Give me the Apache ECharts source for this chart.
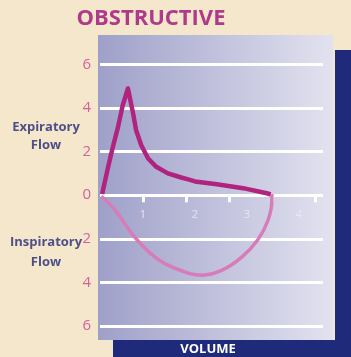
<!DOCTYPE html>
<html>
<head>
<meta charset="utf-8">
<script src="https://cdn.jsdelivr.net/npm/echarts@6/dist/echarts.min.js"></script>
<style>
  html, body { margin: 0; padding: 0; background: #f5e7cb; }
  #chart { width: 351px; height: 357px; }
</style>
</head>
<body>
<div id="chart"></div>
<script>
// volume (L) vs flow (L/s); inspiratory flow drawn below zero
const expiratory = [
  [0.05, 0.05], [0.19, 1.3], [0.3, 2.22], [0.42, 3.13], [0.53, 4.13], [0.65, 4.89],
  [0.77, 3.75], [0.84, 2.98], [0.96, 2.29], [1.12, 1.68], [1.31, 1.3], [1.58, 1.0],
  [1.89, 0.81], [2.05, 0.72], [2.21, 0.63], [2.72, 0.5], [3.33, 0.32],
  [3.88, 0.09], [3.97, 0.03]
];
const inspiratory = [
  [0.03, -0.05], [0.35, -0.69], [0.81, -1.93], [1.28, -2.84], [1.74, -3.35],
  [2.37, -3.67], [2.84, -3.44], [3.3, -2.84], [3.67, -2.06], [3.91, -1.15],
  [4.0, -0.23], [4.0, 0.05]
];
const flowTicks = [-6, -4, -2, 0, 2, 4, 6];
const tickMarks = [1, 2, 3, 4, 5];
const volumeLabels = [1, 2, 3, 4];

const magenta = "#b0237f";
const pink = "#d77cb9";
const navyText = "#4e4f88";

const chart = echarts.init(document.getElementById("chart"), null, { renderer: "canvas" });

chart.setOption({
  animation: false,
  backgroundColor: "#f5e7cb",
  grid: { left: 100, right: 28, top: 64.3, bottom: 31 },
  xAxis: [
    {
      type: "value",
      min: 0,
      max: 5.19,
      axisLine: { show: false, onZero: true },
      splitLine: { show: false },
      axisLabel: { show: false },
      axisTick: {
        show: true,
        customValues: tickMarks,
        length: 7,
        lineStyle: { color: "#ffffff", width: 3 },
      },
    },
    {
      type: "value",
      position: "bottom",
      min: 0.173,
      max: 4.462,
      offset: -131,
      axisLine: { show: false, onZero: false },
      splitLine: { show: false },
      axisTick: { show: false },
      axisLabel: {
        customValues: volumeLabels,
        margin: 14,
        color: "#e4e6f4",
        fontSize: 11,
        fontFamily: "Open Sans",
      },
    },
  ],
  yAxis: {
    type: "value",
    min: flowTicks[0],
    max: flowTicks[flowTicks.length - 1],
    interval: 2,
    axisLine: { show: false },
    axisTick: { show: false },
    splitLine: { lineStyle: { color: "#ffffff", width: 3 } },
    axisLabel: {
      margin: 9,
      color: "#d8609c",
      fontSize: 15,
      fontFamily: "Open Sans",
      formatter: (v) => String(Math.abs(v)),
    },
    z: 3,
  },
  graphic: [
    {
      type: "rect",
      z: -1,
      shape: { x: 98, y: 35, width: 235, height: 305 },
      style: {
        fill: new echarts.graphic.LinearGradient(0, 0, 1, 0, [
          { offset: 0, color: "#9fa0c9" },
          { offset: 1, color: "#e2e2ef" },
        ]),
      },
    },
    { type: "rect", z: -1, shape: { x: 335, y: 50, width: 16, height: 307 }, style: { fill: "#1f2a7a" } },
    { type: "rect", z: -1, shape: { x: 113, y: 340, width: 238, height: 17 }, style: { fill: "#1f2a7a" } },
    {
      type: "text", z: 10, x: 151, y: 19,
      style: { text: "OBSTRUCTIVE", fill: "#b03a8a", font: "bold 22px 'Open Sans'", align: "center", verticalAlign: "middle" },
    },
    {
      type: "text", z: 10, x: 46, y: 136,
      style: { text: "Expiratory\nFlow", fill: navyText, font: "bold 13px 'Open Sans'", lineHeight: 18, align: "center", verticalAlign: "middle" },
    },
    {
      type: "text", z: 10, x: 46, y: 252,
      style: { text: "Inspiratory\nFlow", fill: navyText, font: "bold 13px 'Open Sans'", lineHeight: 20, align: "center", verticalAlign: "middle" },
    },
    {
      type: "text", z: 10, x: 208, y: 349,
      style: { text: "VOLUME", fill: "#ffffff", font: "bold 13px 'Open Sans'", align: "center", verticalAlign: "middle" },
    },
  ],
  series: [
    {
      name: "Inspiratory",
      type: "line",
      xAxisIndex: 0,
      data: inspiratory,
      smooth: 0.4,
      symbol: "none",
      lineStyle: { color: pink, width: 3.5 },
      z: 4,
    },
    {
      name: "Expiratory",
      type: "line",
      xAxisIndex: 0,
      data: expiratory,
      smooth: false,
      symbol: "none",
      lineStyle: { color: magenta, width: 4.5, join: "round" },
      z: 5,
    },
  ],
});
</script>
</body>
</html>
